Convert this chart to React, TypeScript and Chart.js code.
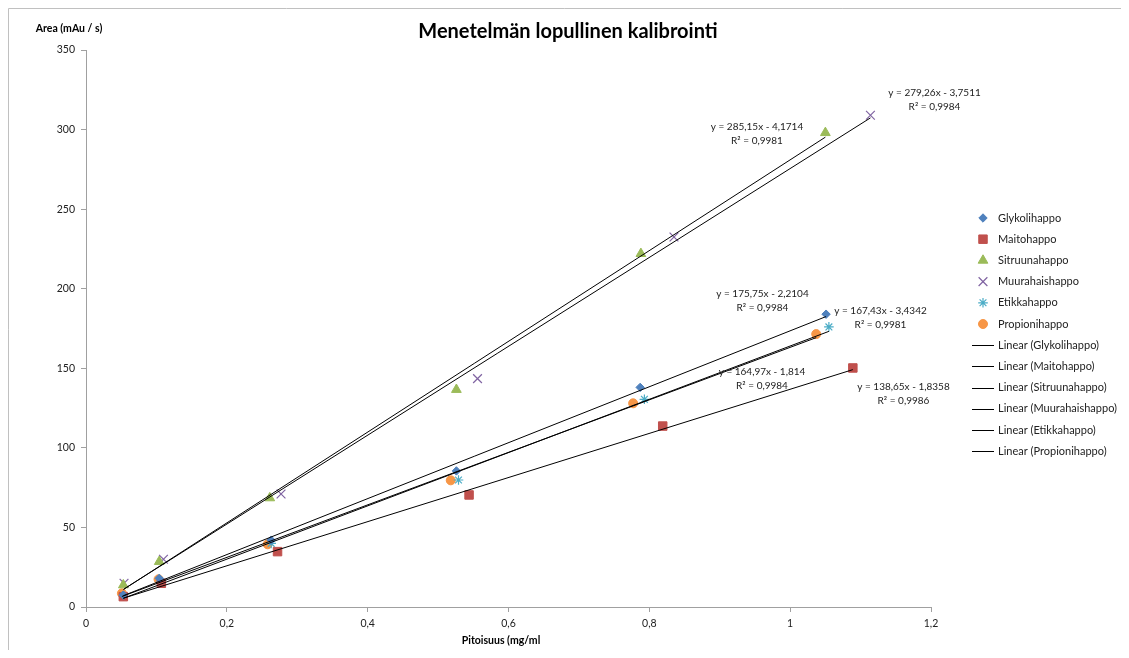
import React, { useEffect, useRef } from 'react';
import { Chart, registerables } from 'chart.js';
import { drawPoint } from 'chart.js/helpers';

Chart.register(...registerables);

// ---------- data ----------
const SERIES = ['Glykolihappo', 'Maitohappo', 'Sitruunahappo', 'Muurahaishappo', 'Etikkahappo', 'Propionihappo'];

const GLYK_X = [0.053, 0.104, 0.263, 0.526, 0.787, 1.051];
const GLYK_Y = [7.5, 18, 42, 85.5, 138, 184];
const MAITO_X = [0.053, 0.107, 0.272, 0.544, 0.819, 1.089];
const MAITO_Y = [6.5, 14.9, 34.8, 70.4, 113.7, 150.2];
const SITR_X = [0.053, 0.104, 0.261, 0.526, 0.788, 1.05];
const SITR_Y = [13.8, 28.5, 68.5, 136.6, 222, 298];
const MUUR_X = [0.054, 0.11, 0.277, 0.556, 0.835, 1.114];
const MUUR_Y = [14.9, 30, 71, 143.5, 232.5, 309];
const ETIK_X = [0.053, 0.106, 0.263, 0.529, 0.793, 1.055];
const ETIK_Y = [7, 16, 40, 79.8, 130.5, 176];
const PROP_X = [0.051, 0.103, 0.258, 0.518, 0.777, 1.037];
const PROP_Y = [8.6, 17.4, 39.4, 79.6, 128, 171.5];

const XS = [GLYK_X, MAITO_X, SITR_X, MUUR_X, ETIK_X, PROP_X];
const YS = [GLYK_Y, MAITO_Y, SITR_Y, MUUR_Y, ETIK_Y, PROP_Y];

// trendline equations (as printed on the chart)
const SLOPES = [175.75, 138.65, 285.15, 279.26, 167.43, 164.97];
const INTERCEPTS = [-2.2104, -1.8358, -4.1714, -3.7511, -3.4342, -1.814];
const R2 = [0.9984, 0.9986, 0.9981, 0.9984, 0.9981, 0.9984];

const TITLE = 'Menetelmän lopullinen kalibrointi';
const Y_TITLE = 'Area (mAu / s)';
const X_TITLE = 'Pitoisuus (mg/ml';

// ---------- styles / positions ----------
const COLORS = ['#4F81BD', '#C0504D', '#9BBB59', '#8064A2', '#4BACC6', '#F79646'];
const POINT_STYLES = ['rectRot', 'rect', 'triangle', 'crossRot', 'star', 'circle'];
const POINT_RADII = [4.2, 6, 5.6, 6.2, 4.8, 4.5];
// equation label anchors (data coordinates, center of first line)
const EQ_POS_X = [0.9607, 1.1609, 0.9529, 1.205, 1.1283, 0.96];
const EQ_POS_Y = [196.7, 138.2, 301.6, 323.0, 186.0, 147.7];

const FONT = 'Lato, "Noto Sans", "DejaVu Sans", sans-serif';

const fmt = (n: number) => String(n).replace('.', ',');

export default function App() {
  const ref = useRef<HTMLCanvasElement | null>(null);

  useEffect(() => {
    if (!ref.current) return;

    const scatterSets = SERIES.map((name, i) => ({
      label: name,
      data: XS[i].map((x, k) => ({ x, y: YS[i][k] })),
      pointStyle: POINT_STYLES[i],
      pointRadius: POINT_RADII[i],
      pointHoverRadius: POINT_RADII[i],
      backgroundColor: COLORS[i],
      borderColor: COLORS[i],
      pointBorderWidth: POINT_STYLES[i] === 'crossRot' || POINT_STYLES[i] === 'star' ? 1.2 : 1,
      showLine: false,
      order: 1,
    }));

    const lineSets = SERIES.map((name, i) => {
      const xmin = Math.min(...XS[i]);
      const xmax = Math.max(...XS[i]);
      return {
        label: 'Linear (' + name + ')',
        data: [
          { x: xmin, y: SLOPES[i] * xmin + INTERCEPTS[i] },
          { x: xmax, y: SLOPES[i] * xmax + INTERCEPTS[i] },
        ],
        showLine: true,
        borderColor: '#000',
        backgroundColor: '#000',
        borderWidth: 1,
        pointRadius: 0,
        pointHoverRadius: 0,
        order: 0,
      };
    });

    const overlay = {
      id: 'overlay',
      beforeDraw(chart: any) {
        const { ctx, width, height } = chart;
        ctx.save();
        ctx.fillStyle = '#fff';
        ctx.fillRect(0, 0, width, height);
        ctx.strokeStyle = '#c0c0c0';
        ctx.lineWidth = 1;
        ctx.beginPath();
        ctx.moveTo(0.5, height);
        ctx.lineTo(0.5, 0.5);
        ctx.lineTo(width, 0.5);
        ctx.stroke();
        ctx.restore();
      },
      afterDraw(chart: any) {
        const { ctx } = chart;
        const xs = chart.scales.x;
        const ys = chart.scales.y;
        ctx.save();
        ctx.fillStyle = '#000';
        ctx.textBaseline = 'middle';
        ctx.textAlign = 'center';
        // title
        ctx.font = 'bold 20px ' + FONT;
        ctx.fillText(TITLE, 560, 23.5);
        // axis titles
        ctx.font = 'bold 10.5px ' + FONT;
        ctx.fillText(Y_TITLE, 61, 21);
        ctx.fillText(X_TITLE, 493, 633);
        // equations
        ctx.font = '10px ' + FONT;
        ctx.fillStyle = '#222';
        SERIES.forEach((_, i) => {
          const cx = xs.getPixelForValue(EQ_POS_X[i]);
          const cy = ys.getPixelForValue(EQ_POS_Y[i]);
          const eq = 'y = ' + fmt(SLOPES[i]) + 'x ' + (INTERCEPTS[i] < 0 ? '- ' : '+ ') + fmt(Math.abs(INTERCEPTS[i]));
          ctx.fillText(eq, cx, cy);
          ctx.fillText('R² = ' + fmt(R2[i]), cx, cy + 13.5);
        });
        // legend
        const y0 = 210;
        const step = 21.2;
        ctx.textAlign = 'left';
        ctx.font = '11px ' + FONT;
        SERIES.forEach((name, i) => {
          const y = y0 + step * i;
          ctx.fillStyle = COLORS[i];
          ctx.strokeStyle = COLORS[i];
          ctx.lineWidth = POINT_STYLES[i] === 'crossRot' || POINT_STYLES[i] === 'star' ? 1.2 : 1;
          drawPoint(ctx, { pointStyle: POINT_STYLES[i], radius: POINT_RADII[i], rotation: 0, borderWidth: ctx.lineWidth } as any, 975, y);
          ctx.fillStyle = '#222';
          ctx.fillText(name, 990, y);
        });
        SERIES.forEach((name, i) => {
          const y = y0 + step * (i + SERIES.length);
          ctx.strokeStyle = '#000';
          ctx.lineWidth = 1;
          ctx.beginPath();
          ctx.moveTo(964, Math.round(y) + 0.5);
          ctx.lineTo(986, Math.round(y) + 0.5);
          ctx.stroke();
          ctx.fillStyle = '#222';
          ctx.fillText('Linear (' + name + ')', 990, y);
        });
        ctx.restore();
      },
    };

    const chart = new Chart(ref.current, {
      type: 'scatter',
      data: { datasets: [...scatterSets, ...lineSets] as any },
      options: {
        animation: false,
        responsive: true,
        maintainAspectRatio: false,
        layout: { padding: { top: 42, right: 190, left: 0, bottom: 0 } },
        plugins: {
          legend: { display: false },
          title: { display: false },
          tooltip: { enabled: false },
        },
        scales: {
          x: {
            type: 'linear',
            min: 0,
            max: 1.2,
            ticks: {
              stepSize: 0.2,
              padding: 5,
              color: '#222',
              font: { family: FONT, size: 10.5 },
              callback: (v: any) => fmt(Math.round(Number(v) * 10) / 10),
            },
            grid: { display: true, drawOnChartArea: false, drawTicks: true, tickLength: 5, color: '#a0a0a0' },
            border: { display: true, color: '#a0a0a0' },
            afterFit: (s: any) => { s.height = 43; },
          },
          y: {
            type: 'linear',
            min: 0,
            max: 350,
            ticks: {
              stepSize: 50,
              padding: 6,
              color: '#222',
              font: { family: FONT, size: 10.5 },
            },
            grid: { display: true, drawOnChartArea: false, drawTicks: true, tickLength: 5, color: '#a0a0a0' },
            border: { display: true, color: '#a0a0a0' },
            afterFit: (s: any) => { s.width = 78; },
          },
        },
      },
      plugins: [overlay],
    });

    return () => chart.destroy();
  }, []);

  return (
    <div style={{ width: 1113, height: 642, position: 'relative' }}>
      <canvas ref={ref} />
    </div>
  );
}
